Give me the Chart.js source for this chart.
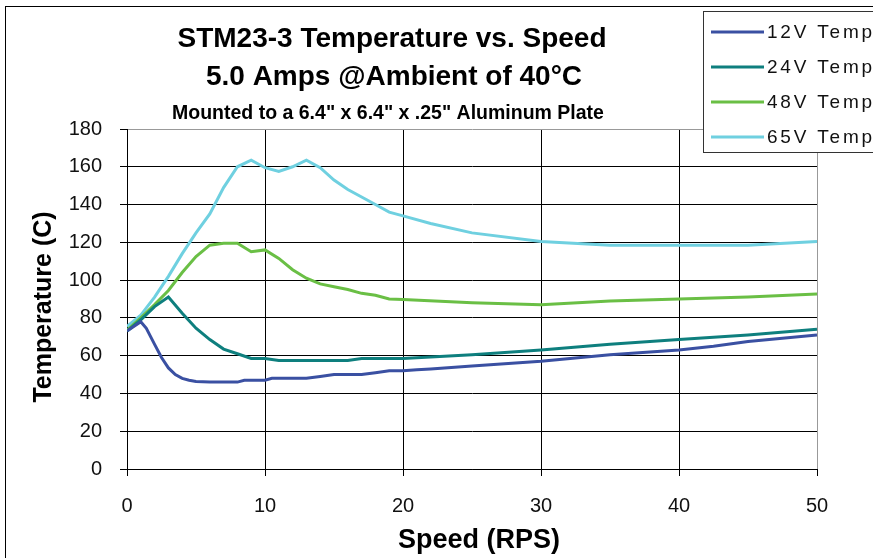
<!DOCTYPE html>
<html>
<head>
<meta charset="utf-8">
<script src="https://cdn.jsdelivr.net/npm/chart.js@4/dist/chart.umd.min.js"></script>
<style>
  html, body { margin: 0; padding: 0; background: #fff; }
  #wrap { width: 873px; height: 558px; }
</style>
</head>
<body>
<div id="wrap"><canvas id="myChart"></canvas></div>
<script>
// values
const labels = ['12V Temp', '24V Temp', '48V Temp', '65V Temp'];
const colors = ['#3a50a2', '#0e7f7e', '#6abf45', '#6fd0e0'];

const speed12 = [0, 1, 1.4, 2, 2.5, 3, 3.5, 4, 4.5, 5, 6, 7, 8, 8.5, 10, 10.5, 13, 14, 15, 17, 18, 19, 20, 21, 22, 25, 30, 35, 40, 42.5, 45, 50];
const temp12 = [73, 78, 74.5, 66, 59, 53.5, 50, 48, 47, 46.3, 46, 46, 46, 47, 47, 48, 48, 49, 50, 50, 51, 52, 52, 52.5, 53, 54.5, 57, 60.5, 63, 65, 67.5, 71];

const speed24 = [0, 1, 2, 3, 4, 5, 6, 7, 8, 9, 10, 11, 16, 17, 20, 25, 30, 35, 40, 45, 50];
const temp24 = [73, 79, 86, 91, 82.5, 74.5, 68.5, 63.5, 61, 58.5, 58.5, 57.5, 57.5, 58.5, 58.5, 60.5, 63, 66, 68.5, 71, 74];

const speed48 = [0, 1, 2, 3, 4, 5, 6, 7, 8, 9, 10, 11, 12, 13, 14, 15, 16, 17, 18, 19, 20, 25, 30, 35, 40, 45, 50];
const temp48 = [73.5, 80, 87, 94.5, 104, 112.5, 118.5, 119.5, 119.5, 115, 116, 111.5, 105.5, 101, 98, 96.5, 95, 93, 92, 90, 89.8, 88, 87, 89, 90, 91, 92.6];

const speed65 = [0, 1, 2, 3, 4, 5, 6, 7, 8, 9, 10, 11, 12, 13, 14, 15, 16, 17, 18, 19, 20, 22, 25, 30, 35, 40, 45, 50];
const temp65 = [75.5, 81.5, 91, 102, 114, 125, 135, 149, 160, 163.5, 159.5, 157.5, 160, 163.5, 159.5, 153, 148, 144, 140, 136, 134, 130, 125, 120.5, 118.5, 118.5, 118.5, 120.5];

const titleLines = ['STM23-3 Temperature vs. Speed', '5.0 Amps @Ambient of 40°C'];
const subTitle = 'Mounted to a 6.4" x 6.4" x .25" Aluminum Plate';
const xTitle = 'Speed (RPS)';
const yTitle = 'Temperature (C)';

function pts(xs, ys) {
  return xs.map((x, i) => ({ x: x, y: ys[i] }));
}

const series = [pts(speed12, temp12), pts(speed24, temp24), pts(speed48, temp48), pts(speed65, temp65)];

const FONT = '"Liberation Sans", Arial, sans-serif';

// frame, titles and the boxed legend in the top right corner
const decor = {
  id: 'decor',
  afterDraw(chart) {
    const ctx = chart.ctx;
    ctx.save();
    ctx.strokeStyle = '#000';
    ctx.lineWidth = 1;
    ctx.strokeRect(5.5, 6.5, 1000, 1000);

    ctx.fillStyle = '#000';
    ctx.textAlign = 'center';
    ctx.textBaseline = 'middle';
    ctx.font = 'bold 28px ' + FONT;
    ctx.fillText(titleLines[0], 392, 39);
    ctx.fillText(titleLines[1], 394, 77);
    ctx.font = 'bold 19.5px ' + FONT;
    ctx.fillText(subTitle, 388, 114);

    // axis titles
    ctx.font = 'bold 27px ' + FONT;
    ctx.fillText(xTitle, 479, 541);
    ctx.save();
    ctx.translate(43, 307);
    ctx.rotate(-Math.PI / 2);
    ctx.font = 'bold 25px ' + FONT;
    ctx.fillText(yTitle, 0, 1);
    ctx.restore();

    // legend box
    ctx.fillStyle = '#fff';
    ctx.fillRect(703, 11, 200, 141);
    ctx.strokeStyle = '#333';
    ctx.strokeRect(703.5, 11.5, 200, 141);
    ctx.textAlign = 'left';
    ctx.font = '19px ' + FONT;
    ctx.letterSpacing = '2.8px';
    chart.data.datasets.forEach((ds, i) => {
      const y = 32 + i * 35;
      ctx.strokeStyle = ds.borderColor;
      ctx.lineWidth = 3;
      ctx.beginPath();
      ctx.moveTo(711, y);
      ctx.lineTo(764, y);
      ctx.stroke();
      ctx.fillStyle = '#111';
      ctx.fillText(ds.label, 767, y + 1);
    });
    ctx.restore();
  }
};

new Chart(document.getElementById('myChart'), {
  type: 'line',
  data: {
    datasets: series.map((d, i) => ({
      label: labels[i],
      data: d,
      borderColor: colors[i],
      backgroundColor: colors[i],
      borderWidth: 3,
      pointRadius: 0,
      tension: 0,
      fill: false
    }))
  },
  options: {
    responsive: true,
    maintainAspectRatio: false,
    animation: false,
    layout: { padding: { top: 129, right: 56, left: 0, bottom: 0 } },
    plugins: {
      legend: { display: false },
      title: { display: false },
      tooltip: { enabled: false }
    },
    scales: {
      x: {
        type: 'linear',
        min: 0,
        max: 50,
        afterFit(scale) { scale.height = 89; },
        ticks: {
          stepSize: 10,
          color: '#111',
          padding: 18,
          maxRotation: 0,
          font: { family: FONT, size: 20 }
        },
        grid: {
          color: (c) => (c.tick && c.tick.value === 50 ? '#999' : '#000'),
          lineWidth: 1,
          tickLength: 7,
          tickColor: '#000'
        },
        border: { color: '#000', width: 1 }
      },
      y: {
        min: 0,
        max: 180,
        afterFit(scale) { scale.width = 127; },
        ticks: {
          stepSize: 20,
          color: '#111',
          padding: 18,
          font: { family: FONT, size: 20 }
        },
        grid: {
          color: (c) => (c.tick && c.tick.value === 180 ? '#999' : '#000'),
          lineWidth: 1,
          tickLength: 7,
          tickColor: '#000'
        },
        border: { color: '#000', width: 1 }
      }
    }
  },
  plugins: [decor]
});
</script>
</body>
</html>
